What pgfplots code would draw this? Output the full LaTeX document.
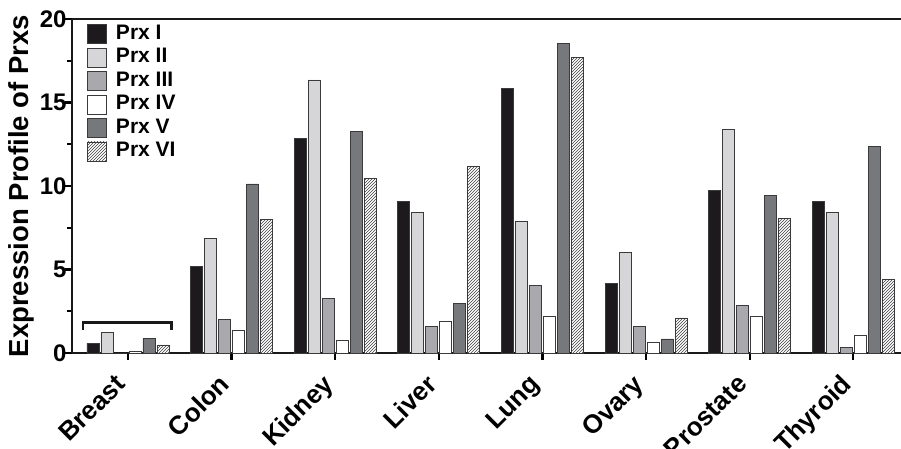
\documentclass[border=0pt]{standalone}
\usepackage{fontspec}
\setmainfont{Liberation Sans}
\usepackage{pgfplots}
\pgfplotsset{compat=1.18}
\usetikzlibrary{patterns,calc}
\definecolor{cI}{HTML}{1C1A1C}
\definecolor{cII}{HTML}{D6D6D8}
\definecolor{cIII}{HTML}{A9A9AD}
\definecolor{cIV}{HTML}{FFFFFF}
\definecolor{cV}{HTML}{77787C}
\definecolor{edge}{HTML}{3A3A3C}
\begin{document}
\begin{tikzpicture}
\begin{axis}[
  name=ax,
  scale only axis,
  width=829pt, height=334pt,
  xmin=-0.54, xmax=7.46,
  ymin=0, ymax=20,
  axis lines*=left,
  axis line style={line width=2.6pt, color=black!90},
  ytick={0,5,10,15,20},
  minor ytick={2.5,7.5,12.5,17.5},
  xtick={0,1,2,3,4,5,6,7},
  xticklabels={Breast,Colon,Kidney,Liver,Lung,Ovary,Prostate,Thyroid},
  tick align=outside,
  major tick length=7pt,
  minor tick length=5pt,
  every tick/.style={line width=2.2pt, black},
  /pgf/number format/assume math mode=true,
  yticklabel style={font=\bfseries\fontsize{24}{24}\selectfont, xshift=5pt},
  xticklabel style={font=\bfseries\fontsize{26}{26}\selectfont, xshift=-14pt, yshift=-8pt, rotate=45, anchor=north east},
  ylabel={Expression Profile of Prxs},
  ylabel style={font=\bfseries\fontsize{27.5}{27.5}\selectfont, yshift=-1pt},
  bar width=12pt,
  legend style={draw=none, fill=none, at={(rel axis cs:0,1)}, anchor=north west,
    xshift=15pt, yshift=-3pt, font=\bfseries\fontsize{21}{21}\selectfont,
    row sep=0pt, inner sep=0pt, legend cell align=left,
    nodes={inner sep=1pt, text height=16pt, text depth=5.5pt}},
  legend image code/.code={\draw[#1, line width=0.8pt] (0pt,-9.5pt) rectangle (19pt,9.5pt); \path (27pt,0pt);},
  clip=false,
]
\addplot[ybar, bar shift=-35pt, fill=cI, draw=edge, line width=0.8pt] coordinates {(0,0.58) (1,5.17) (2,12.86) (3,9.05) (4,15.85) (5,4.18) (6,9.71) (7,9.05)};
\addplot[ybar, bar shift=-21pt, fill=cII, draw=edge, line width=0.8pt] coordinates {(0,1.24) (1,6.87) (2,16.35) (3,8.41) (4,7.87) (5,6.00) (6,13.41) (7,8.41)};
\addplot[ybar, bar shift=-7pt, fill=cIII, draw=edge, line width=0.8pt] coordinates {(0,0) (1,2.02) (2,3.28) (3,1.58) (4,4.03) (5,1.58) (6,2.84) (7,0.34)};
\addplot[ybar, bar shift=7pt, fill=cIV, draw=edge, line width=0.8pt] coordinates {(0,0.08) (1,1.34) (2,0.74) (3,1.88) (4,2.18) (5,0.64) (6,2.18) (7,1.06)};
\addplot[ybar, bar shift=21pt, fill=cV, draw=edge, line width=0.8pt] coordinates {(0,0.86) (1,10.12) (2,13.24) (3,2.98) (4,18.53) (5,0.84) (6,9.45) (7,12.37)};
\addplot[ybar, bar shift=35pt, fill=white, draw=edge, line width=0.8pt, postaction={pattern=north east lines, pattern color=black!75}] coordinates {(0,0.48) (1,8.02) (2,10.43) (3,11.17) (4,17.69) (5,2.10) (6,8.03) (7,4.42)};
\legend{Prx I,Prx II,Prx III,Prx IV,Prx V,Prx VI}
\addplot[sharp plot, no marks, draw=black!90, line width=2.6pt, forget plot] coordinates {(-0.435,1.38) (-0.435,1.82) (0.42,1.82) (0.42,1.38)};
\draw[line width=2.6pt, black!90] (rel axis cs:0,1) -- (rel axis cs:1,1);
\end{axis}
\pgfresetboundingbox
\path[use as bounding box] ($(ax.south west)+(-72pt,-96pt)$) rectangle ($(ax.north east)+(0pt,19pt)$);
\end{tikzpicture}
\end{document}
